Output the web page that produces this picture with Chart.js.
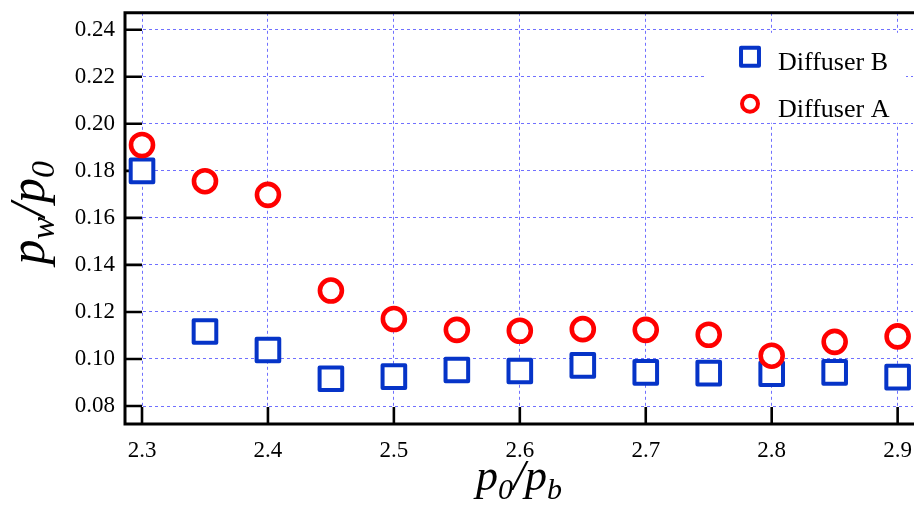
<!DOCTYPE html>
<html>
<head>
<meta charset="utf-8">
<script src="https://cdn.jsdelivr.net/npm/chart.js@4/dist/chart.umd.min.js"></script>
<style>
  html, body { margin: 0; padding: 0; background: #fff; overflow: hidden; }
  #wrap { position: relative; width: 914px; height: 507px; overflow: hidden; }
  /* end tick labels reserve room above and right of the plot; let that part fall outside the page */
  #inner { position: absolute; left: 0; top: -11px; width: 933px; height: 518px; }
</style>
</head>
<body>
<div id="wrap"><div id="inner"><canvas id="pressureChart"></canvas></div></div>
<script>
// pressure ratio p0/pb
var pressureRatio = [2.3, 2.35, 2.4, 2.45, 2.5, 2.55, 2.6, 2.65, 2.7, 2.75, 2.8, 2.85, 2.9];
// wall pressure ratio pw/p0
var diffuserB = [0.180, 0.1117, 0.1038, 0.0916, 0.0925, 0.0953, 0.0949, 0.0973, 0.0943, 0.0940, 0.0937, 0.0943, 0.0923];
var diffuserA = [0.191, 0.1756, 0.1698, 0.1291, 0.1170, 0.1124, 0.1120, 0.1127, 0.1124, 0.1103, 0.1014, 0.1073, 0.1096];

var xTicks = [2.3, 2.4, 2.5, 2.6, 2.7, 2.8, 2.9];
var yTicks = [0.08, 0.10, 0.12, 0.14, 0.16, 0.18, 0.20, 0.22, 0.24];

// axis titles as [text, subscript?]
var xTitle = [['p', false], ['0', true], ['/', false], ['p', false], ['b', true]];
var yTitle = [['p', false], ['w', true], ['/', false], ['p', false], ['0', true]];

var serif = '"Liberation Serif", "Times New Roman", serif';
var blue = '#0634c8';
var red = '#ff0000';

function toPoints(xs, ys) {
    return xs.map(function (x, i) { return { x: x, y: ys[i] }; });
}

// width of a title made of normal + subscript pieces
function measureParts(ctx, parts, big, small) {
    var w = 0;
    parts.forEach(function (p) {
        ctx.font = 'italic ' + (p[1] ? small : big) + 'px ' + serif;
        w += ctx.measureText(p[0]).width;
    });
    return w;
}

function drawParts(ctx, parts, x, y, big, small, subDrop) {
    parts.forEach(function (p) {
        ctx.font = 'italic ' + (p[1] ? small : big) + 'px ' + serif;
        ctx.fillText(p[0], x, p[1] ? y + subDrop : y);
        x += ctx.measureText(p[0]).width;
    });
}

// frame on left/top/bottom plus inward major ticks
var framePlugin = {
    id: 'frame',
    beforeDatasetsDraw: function (chart) {
        var ctx = chart.ctx, a = chart.chartArea;
        var xs = chart.scales.x, ys = chart.scales.y;
        ctx.save();
        ctx.strokeStyle = '#000';
        ctx.lineWidth = 2.6;
        ctx.beginPath();
        xTicks.forEach(function (v) {
            var px = xs.getPixelForValue(v);
            ctx.moveTo(px, a.bottom);
            ctx.lineTo(px, a.bottom - 17);
        });
        yTicks.forEach(function (v) {
            var py = ys.getPixelForValue(v);
            ctx.moveTo(a.left, py);
            ctx.lineTo(a.left + 17, py);
        });
        ctx.stroke();
        ctx.lineWidth = 3;
        ctx.beginPath();
        ctx.moveTo(a.right + 2, a.top);
        ctx.lineTo(a.left, a.top);
        ctx.lineTo(a.left, a.bottom);
        ctx.lineTo(a.right + 2, a.bottom);
        ctx.stroke();
        ctx.restore();
        ctx.lineJoin = 'round';
    }
};

// boxed legend inside the plot and the axis titles
var annotatePlugin = {
    id: 'annotate',
    afterDatasetsDraw: function (chart) {
        var ctx = chart.ctx, a = chart.chartArea;
        ctx.save();
        ctx.fillStyle = '#fff';
        ctx.fillRect(706, a.top + 20, 200, 90);

        var rows = [a.top + 44, a.top + 91];
        chart.data.datasets.forEach(function (ds, i) {
            ctx.save();
            ctx.lineJoin = 'round';
            ctx.fillStyle = '#fff';
            ctx.strokeStyle = ds.borderColor;
            ctx.lineWidth = 4;
            Chart.helpers.drawPoint(ctx, {
                pointStyle: ds.pointStyle,
                radius: ds.pointStyle === 'rect' ? 12.7 : 8,
                rotation: 0,
                borderWidth: 4
            }, 750, rows[i]);
            ctx.restore();
            ctx.fillStyle = '#000';
            ctx.font = '26px ' + serif;
            ctx.textBaseline = 'alphabetic';
            ctx.fillText(ds.label, 778, rows[i] + 13);
        });

        ctx.fillStyle = '#000';
        ctx.textBaseline = 'alphabetic';
        // x title
        var xw = measureParts(ctx, xTitle, 44, 30);
        drawParts(ctx, xTitle, 519 - xw / 2, a.bottom + 66, 44, 30, 9);
        // y title, rotated
        var yw = measureParts(ctx, yTitle, 50, 34);
        ctx.translate(44, a.top + 200);
        ctx.rotate(-Math.PI / 2);
        drawParts(ctx, yTitle, -yw / 2, 0, 50, 34, 10);
        ctx.restore();
    }
};

var chart = new Chart(document.getElementById('pressureChart').getContext('2d'), {
    type: 'scatter',
    data: {
        datasets: [{
            label: 'Diffuser B',
            data: toPoints(pressureRatio, diffuserB),
            pointStyle: 'rect',
            pointRadius: 16,
            pointBorderWidth: 4,
            borderColor: blue,
            backgroundColor: '#fff',
            pointHoverRadius: 16,
            order: 1,
            clip: false
        }, {
            label: 'Diffuser A',
            data: toPoints(pressureRatio, diffuserA),
            pointStyle: 'circle',
            pointRadius: 11,
            pointBorderWidth: 4.6,
            borderColor: red,
            backgroundColor: '#fff',
            pointHoverRadius: 11,
            order: 0,
            clip: false
        }]
    },
    options: {
        responsive: true,
        maintainAspectRatio: false,
        animation: false,
        layout: { padding: 0 },
        plugins: {
            legend: { display: false },
            tooltip: { enabled: false }
        },
        scales: {
            x: {
                type: 'linear',
                min: 2.2865,
                max: 2.9122,
                afterFit: function (s) { s.height = 83; },
                ticks: {
                    stepSize: 0.1,
                    includeBounds: false,
                    padding: 13,
                    color: '#000',
                    font: { family: serif, size: 23 },
                    maxRotation: 0,
                    callback: function (v) { return Number(v).toFixed(1); }
                },
                grid: { color: '#7070ff', lineWidth: 1, drawTicks: false },
                border: { display: false, dash: [3, 3] }
            },
            y: {
                type: 'linear',
                min: 0.07236,
                max: 0.2472,
                afterFit: function (s) { s.width = 125; },
                ticks: {
                    stepSize: 0.02,
                    includeBounds: false,
                    padding: 10,
                    color: '#000',
                    font: { family: serif, size: 23 },
                    callback: function (v) { return Number(v).toFixed(2); }
                },
                grid: { color: '#7070ff', lineWidth: 1, drawTicks: false },
                border: { display: false, dash: [3, 3] }
            }
        }
    },
    plugins: [framePlugin, annotatePlugin]
});
</script>
</body>
</html>
